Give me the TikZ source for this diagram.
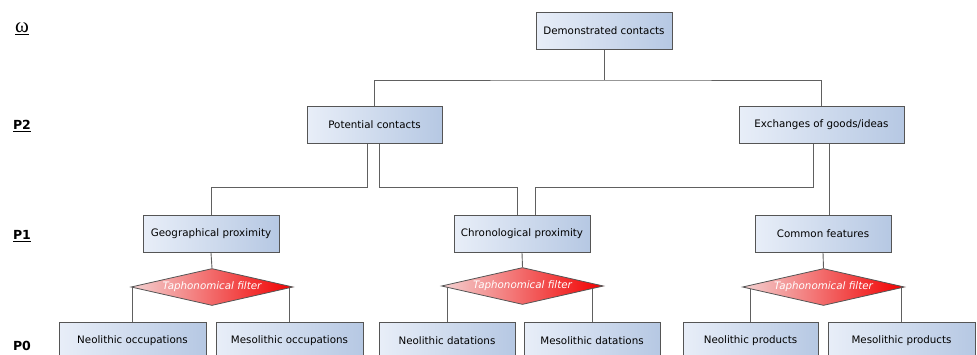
\documentclass[tikz,border=0pt]{standalone}
\usepackage{fontspec}
\setmainfont{DejaVu Sans}
\newfontfamily\omegafont{Liberation Serif}
\usepackage{tikz}
\usetikzlibrary{calc,shapes.geometric,backgrounds}
\definecolor{boxL}{HTML}{E8EEF8}
\definecolor{boxR}{HTML}{B6C8E3}
\definecolor{edge}{HTML}{555555}
\definecolor{wire}{HTML}{606060}
\definecolor{filtL}{HTML}{F3D2D2}
\definecolor{filtR}{HTML}{F20000}
\tikzset{
  concept/.style={draw=edge, line width=0.8pt, left color=boxL, right color=boxR,
    minimum height=37pt, inner sep=2pt, font=\fontsize{10.3}{12}\selectfont},
  filt/.style={diamond, draw=edge, line width=0.8pt, left color=filtL, right color=filtR,
    minimum width=162pt, minimum height=37pt, inner sep=0pt, aspect=4.4,
    text=white, font=\fontsize{10.3}{12}\selectfont\itshape},
  level/.style={font=\fontsize{12.5}{14}\selectfont\bfseries},
  wire/.style={draw=wire, line width=0.9pt}
}
\begin{document}
\begin{tikzpicture}[x=1pt,y=-1pt]
\useasboundingbox (0,0) rectangle (977,354);
% levels
\node[level] (lw) at (22,29) {\underline{\omegafont\mdseries\fontsize{21}{22}\selectfont ω}};
\node[level] (l2) at (22,126) {\underline{P2}};
\node[level] (l1) at (22,236) {\underline{P1}};
\node[level] (l0) at (22,346) {P0};

% omega / P2
\node[concept, minimum width=136pt] (demo) at (604,30.5) {Demonstrated contacts};
\node[concept, minimum width=135pt] (pot) at (374.5,124.5) {Potential contacts};
\node[concept, minimum width=165pt] (exch) at (821.5,124.5) {Exchanges of goods/ideas};

% P1
\node[concept, minimum width=136pt] (geo) at (211,234) {Geographical proximity};
\node[concept, minimum width=136pt] (chrono) at (522,234) {Chronological proximity};
\node[concept, minimum width=136pt] (common) at (823,234) {Common features};

\node[filt] (filtA) at (212,287) {Taphonomical filter};
\node[filt] (filtB) at (522.5,286) {Taphonomical filter};
\node[filt] (filtC) at (823.5,287) {Taphonomical filter};

% P0
\node[concept, minimum width=147pt] (neoOcc) at (132.5,340.5) {Neolithic occupations};
\node[concept, minimum width=147pt] (mesoOcc) at (289.5,340.5) {Mesolithic occupations};
\node[concept, minimum width=136pt] (neoDat) at (447,340.5) {Neolithic datations};
\node[concept, minimum width=136pt] (mesoDat) at (592,340.5) {Mesolithic datations};
\node[concept, minimum width=135pt] (neoProd) at (750.5,340.5) {Neolithic products};
\node[concept, minimum width=147pt] (mesoProd) at (901.5,340.5) {Mesolithic products};

% connectors
\begin{scope}[on background layer]
\coordinate (topBar) at (604,80);
\draw[wire] (demo.south) -- (topBar);
\draw[wire] (pot.north) |- (topBar) -| (exch.north);

\coordinate (midBar) at (0,187);
\coordinate (chronoIn) at ([xshift=-5pt]chrono.north);
\coordinate (chronoIn2) at ([xshift=13pt]chrono.north);
\draw[wire] ([xshift=-7.5pt]pot.south) |- (midBar -| geo.north) -- (geo.north);
\draw[wire] ([xshift=4.5pt]pot.south) |- (midBar -| chronoIn) -- (chronoIn);
\draw[wire] ([xshift=-8.5pt]exch.south) |- (midBar -| chronoIn2) -- (chronoIn2);
\draw[wire] ([xshift=7.5pt]exch.south) -- ([xshift=7.5pt]exch.south |- common.north);

\draw[wire] (geo.south) -- (filtA.north);
\draw[wire] (chrono.south) -- (filtB.north);
\draw[wire] (common.south) -- (filtC.north);

\foreach \f/\a/\b in {filtA/neoOcc/mesoOcc, filtB/neoDat/mesoDat, filtC/neoProd/mesoProd}{
  \draw[wire] (\a.north) -- (\a.north |- \f.west);
  \draw[wire] (\b.north) -- (\b.north |- \f.east);
}
\end{scope}
\end{tikzpicture}
\end{document}
